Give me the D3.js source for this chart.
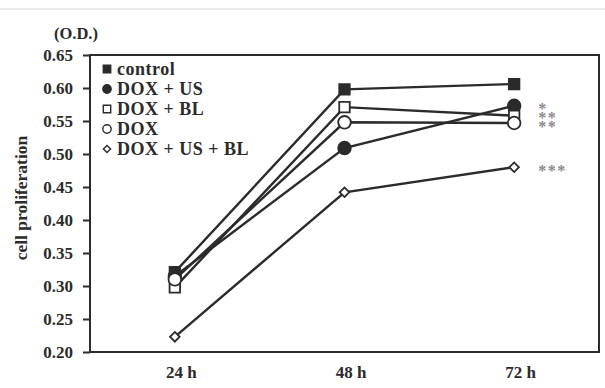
<!DOCTYPE html>
<html>
<head>
<meta charset="utf-8">
<script src="https://cdn.jsdelivr.net/npm/d3@7"></script>
<style>
  body { margin: 0; background: #fff; }
  svg { display: block; }
</style>
</head>
<body>
<div id="chart"></div>
<script>
// time points and group readings (O.D.)
var times = ['24 h', '48 h', '72 h'];
var groups = ['control', 'DOX + US', 'DOX + BL', 'DOX', 'DOX + US + BL'];
var control = [0.321, 0.598, 0.606];
var doxUs = [0.315, 0.509, 0.573];
var doxBl = [0.298, 0.571, 0.558];
var dox = [0.310, 0.548, 0.547];
var doxUsBl = [0.223, 0.442, 0.480];
var stars = ['*', '**', '**', '', '***'];
var yTicks = [0.20, 0.25, 0.30, 0.35, 0.40, 0.45, 0.50, 0.55, 0.60, 0.65];

var series = [control, doxUs, doxBl, dox, doxUsBl];
// marker shape + fill for each group
var shapes = ['square', 'circle', 'square', 'circle', 'diamond'];
var fills = ['#2a2a2a', '#2a2a2a', '#fff', '#fff', '#fff'];
// height of each star mark, on the value scale
var starY = [0.574, 0.561, 0.547, 0, 0.480];

var width = 605, height = 388;
var plotL = 90, plotR = 599, plotT = 55, plotB = 352;
var ink = '#2b2b2b';
var font = '"Liberation Serif", "DejaVu Serif", serif';

var svg = d3.select('#chart').append('svg')
    .attr('width', width)
    .attr('height', height);

// faint scan line at the top
svg.append('line')
    .attr('x1', 0).attr('x2', width)
    .attr('y1', 9).attr('y2', 9)
    .attr('stroke', '#e4e4e4').attr('stroke-width', 1.5);

var x = d3.scalePoint().domain(times).range([plotL, plotR]).padding(0.5);
var y = d3.scaleLinear().domain([0.20, 0.65]).range([plotB, plotT]);

// frame
svg.append('rect')
    .attr('x', plotL).attr('y', plotT)
    .attr('width', plotR - plotL).attr('height', plotB - plotT)
    .attr('fill', 'none').attr('stroke', ink).attr('stroke-width', 2);

// y axis
var yAxis = svg.append('g')
    .attr('transform', 'translate(' + plotL + ',0)')
    .call(d3.axisLeft(y).tickValues(yTicks).tickFormat(d3.format('.2f')).tickSize(7).tickPadding(10));
yAxis.select('.domain').remove();
yAxis.selectAll('line').attr('stroke', ink).attr('stroke-width', 2);
yAxis.selectAll('text')
    .attr('font-family', font).attr('font-weight', 'bold')
    .attr('font-size', 17).attr('fill', ink);

// x axis labels
var xAxis = svg.append('g')
    .attr('transform', 'translate(6,' + plotB + ')')
    .call(d3.axisBottom(x).tickSize(0).tickPadding(14));
xAxis.select('.domain').remove();
xAxis.selectAll('text')
    .attr('font-family', font).attr('font-weight', 'bold')
    .attr('font-size', 17).attr('fill', ink);

// axis titles
svg.append('text')
    .attr('x', 54).attr('y', 39)
    .attr('font-family', font).attr('font-weight', 'bold')
    .attr('font-size', 16.5).attr('fill', ink)
    .text('(O.D.)');

svg.append('text')
    .attr('transform', 'translate(27,' + 198 + ') rotate(-90)')
    .attr('text-anchor', 'middle')
    .attr('font-family', font).attr('font-weight', 'bold')
    .attr('font-size', 17.5).attr('fill', ink)
    .text('cell proliferation');

var line = d3.line()
    .x(function(d, i) { return x(times[i]); })
    .y(function(d) { return y(d); });

// diamond = square turned 45 degrees (flatter than d3's own diamond)
function symbolFor(s, size) {
    var t = s === 'circle' ? d3.symbolCircle : d3.symbolSquare;
    return d3.symbol().type(t).size(size)();
}
function turn(s) { return s === 'diamond' ? ' rotate(45)' : ''; }
var sizes = { square: 110, circle: 125, diamond: 46 };

// lines
series.forEach(function(vals, k) {
    svg.append('path')
        .datum(vals)
        .attr('d', line)
        .attr('fill', 'none')
        .attr('stroke', ink)
        .attr('stroke-width', 2.4);
});

// markers
series.forEach(function(vals, k) {
    svg.selectAll('.m' + k)
        .data(vals)
        .enter()
        .append('path')
        .attr('class', 'm' + k)
        .attr('transform', function(d, i) {
            return 'translate(' + x(times[i]) + ',' + y(d) + ')' + turn(shapes[k]);
        })
        .attr('d', symbolFor(shapes[k], sizes[shapes[k]]))
        .attr('fill', fills[k])
        .attr('stroke', ink)
        .attr('stroke-width', 1.8);
});

// significance marks
groups.forEach(function(g, k) {
    if (!stars[k]) return;
    svg.append('text')
        .attr('x', x(times[2]) + 24)
        .attr('y', y(starY[k]) + 9)
        .attr('font-family', font).attr('font-weight', 'bold')
        .attr('font-size', 16).attr('fill', '#8a8a8a')
        .attr('letter-spacing', 1.5)
        .text(stars[k]);
});

// legend
var legend = svg.append('g').attr('transform', 'translate(107,69)');
groups.forEach(function(g, k) {
    var row = legend.append('g').attr('transform', 'translate(0,' + (k * 20) + ')');
    row.append('path')
        .attr('d', symbolFor(shapes[k], shapes[k] === 'diamond' ? 26 : 55))
        .attr('transform', turn(shapes[k]))
        .attr('fill', fills[k])
        .attr('stroke', ink)
        .attr('stroke-width', 1.4);
    row.append('text')
        .attr('x', 10).attr('y', 6)
        .attr('font-family', font).attr('font-weight', 'bold')
        .attr('font-size', 18).attr('fill', ink)
        .attr('letter-spacing', 0.5)
        .text(g);
});
</script>
</body>
</html>
